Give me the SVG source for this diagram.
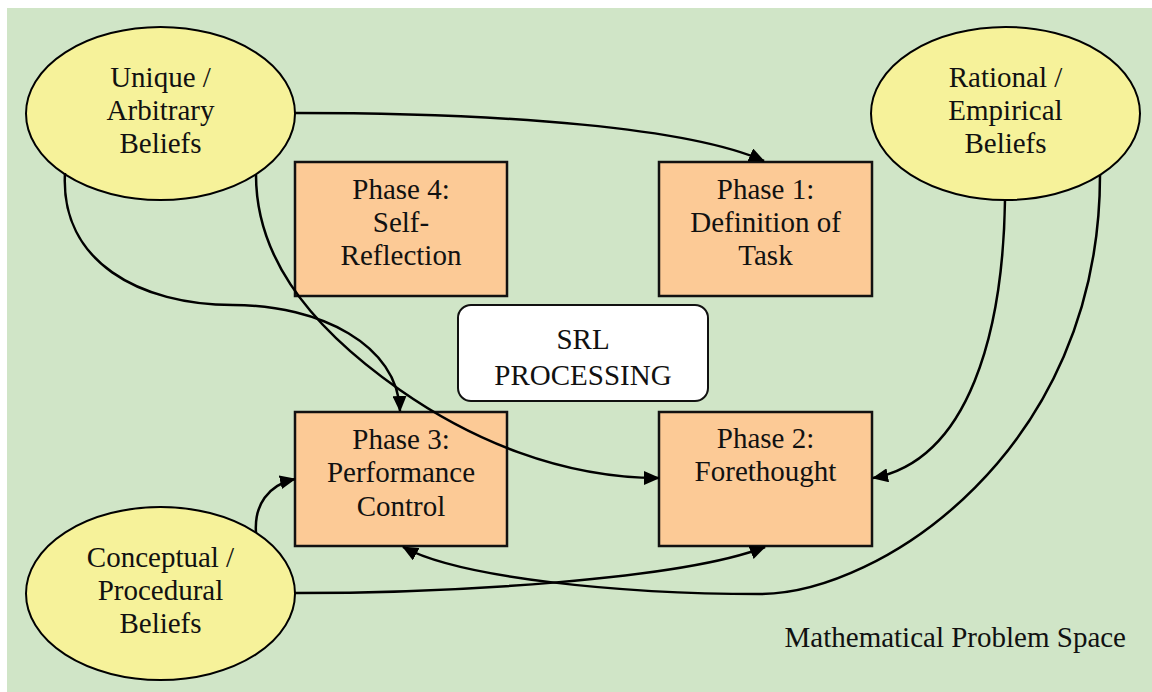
<svg xmlns="http://www.w3.org/2000/svg" width="1152" height="692" viewBox="0 0 1152 692">
  <style>
    .bg { fill: #D0E5C7; }
    .belief { fill: #F6F29A; stroke: #000; stroke-width: 2; }
    .phase { fill: #FCCA96; stroke: #111; stroke-width: 2.5; }
    .core { fill: #FFFFFF; stroke: #111; stroke-width: 2; }
    text { font-family: "Liberation Serif", "Times New Roman", serif; font-size: 29px; fill: #111; text-anchor: middle; }
    .edge { fill: none; stroke: #000; stroke-width: 2.5; }
    .arrow { marker-end: url(#head); }
  </style>
  <defs>
    <marker id="head" markerUnits="userSpaceOnUse" markerWidth="16" markerHeight="14" refX="15" refY="7" orient="auto">
      <path d="M0,0 L16,7 L0,14 z" fill="#000"/>
    </marker>
  </defs>

  <!-- problem space background -->
  <rect class="bg" x="7" y="8" width="1145" height="684"/>
  <text x="1126" y="647" style="text-anchor:end">Mathematical Problem Space</text>

  <!-- belief nodes -->
  <g id="unique-beliefs">
    <ellipse class="belief" cx="160.5" cy="113.5" rx="134.5" ry="86.5"/>
    <text x="160.5" y="87">Unique /</text>
    <text x="160.5" y="120">Arbitrary</text>
    <text x="160.5" y="153">Beliefs</text>
  </g>
  <g id="rational-beliefs">
    <ellipse class="belief" cx="1005.5" cy="113.5" rx="134.5" ry="86.5"/>
    <text x="1005.5" y="87">Rational /</text>
    <text x="1005.5" y="120">Empirical</text>
    <text x="1005.5" y="153">Beliefs</text>
  </g>
  <g id="conceptual-beliefs">
    <ellipse class="belief" cx="160.5" cy="593.5" rx="134.5" ry="86.5"/>
    <text x="160.5" y="567">Conceptual /</text>
    <text x="160.5" y="600">Procedural</text>
    <text x="160.5" y="633">Beliefs</text>
  </g>

  <!-- SRL phases -->
  <g id="phase-4">
    <rect class="phase" x="295" y="162" width="212" height="134"/>
    <text x="401" y="199">Phase 4:</text>
    <text x="401" y="232">Self-</text>
    <text x="401" y="265">Reflection</text>
  </g>
  <g id="phase-1">
    <rect class="phase" x="659" y="162" width="213" height="134"/>
    <text x="765.5" y="199">Phase 1:</text>
    <text x="765.5" y="232">Definition of</text>
    <text x="765.5" y="265">Task</text>
  </g>
  <g id="srl-processing">
    <rect class="core" x="458" y="305" width="250" height="96" rx="13" ry="13"/>
    <text x="583" y="349">SRL</text>
    <text x="583" y="385">PROCESSING</text>
  </g>
  <g id="phase-3">
    <rect class="phase" x="295" y="412" width="212" height="134"/>
    <text x="401" y="449">Phase 3:</text>
    <text x="401" y="482">Performance</text>
    <text x="401" y="516">Control</text>
  </g>
  <g id="phase-2">
    <rect class="phase" x="659" y="412" width="213" height="134"/>
    <text x="765.5" y="448">Phase 2:</text>
    <text x="765.5" y="481">Forethought</text>
  </g>

  <!-- connectors -->
  <g id="connectors">
    <path class="edge arrow" d="M295,113 C510,113 690,128 764,161"/>
    <path class="edge arrow" d="M65,173 C60,262 140,305 233,305 C320,305 398,345 400,411"/>
    <path class="edge arrow" d="M256,175 C256,250 300,320 400,390 C470,439 560,478 659,478"/>
    <path class="edge arrow" d="M1005,200 C1003,330 970,460 873,478"/>
    <path class="edge arrow" d="M1100,175 C1100,450 880,594 760,594 C620,594 460,578 403,547"/>
    <path class="edge arrow" d="M295,593 C450,593 680,580 765,547"/>
    <path class="edge arrow" d="M256,533 C254,505 268,485 295,479"/>
  </g>
</svg>
